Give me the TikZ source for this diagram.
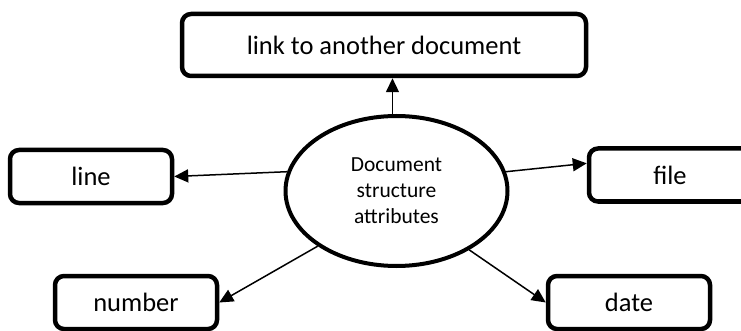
\documentclass[tikz,border=0pt]{standalone}
\usepackage{fontspec}
\setmainfont{Carlito}
\usetikzlibrary{arrows.meta,shapes.geometric}

\begin{document}
\begin{tikzpicture}[x=1pt,y=-1pt,
  box/.style={draw,line width=4.5pt,rounded corners=9pt,minimum width=162pt,minimum height=53pt,inner sep=0pt,font=\fontsize{26.5}{30}\selectfont},
  hub/.style={draw,ellipse,line width=4pt,minimum width=222pt,minimum height=150pt,inner sep=0pt,align=center,font=\fontsize{21.5}{26}\selectfont},
  link/.style={line width=1.5pt,-{Triangle[length=14pt,width=13pt]}}]
\path[use as bounding box,clip] (0,0) rectangle (741,331);
\node[hub] (Doc) at (396.5,191) {Document\\structure\\attributes};
\node[box,minimum width=404pt,minimum height=62pt] (Link) at (384,45) {link to another document};
\node[box] (Line) at (91,176.5) {line};
\node[box] (File) at (670,175) {file};
\node[box] (Num) at (136,302.5) {number};
\node[box] (Date) at (629,302.5) {date};
\draw[link] (Doc.93) -- (Doc.93 |- Link.south);
\draw[link] (Doc.170) -- (Line.east);
\draw[link] (Doc.10) -- (File.172);
\draw[link] (Doc.215) -- (Num.east);
\draw[link] (Doc.321) -- (Date.west);
\end{tikzpicture}
\end{document}
